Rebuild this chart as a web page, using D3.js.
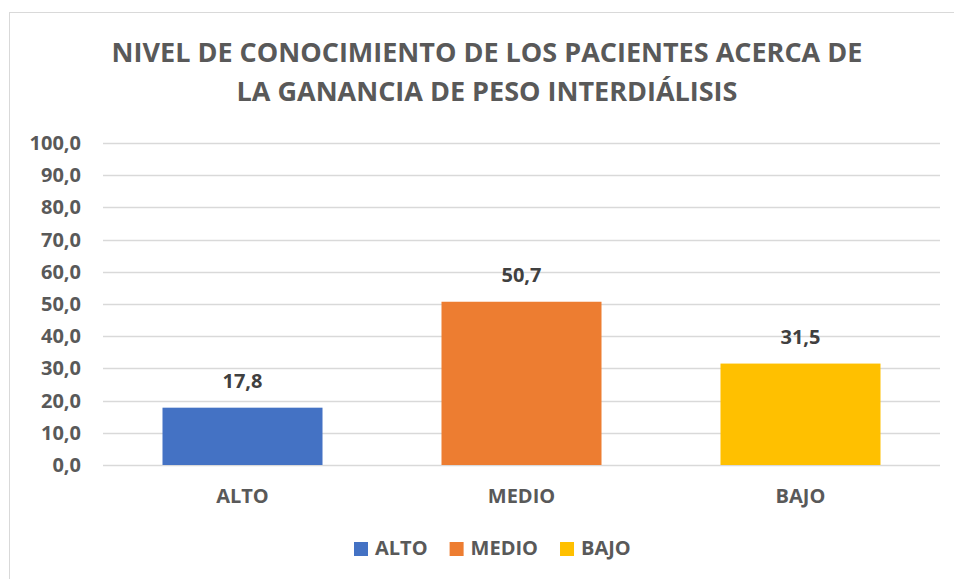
<!DOCTYPE html>
<html>
<head>
<meta charset="utf-8">
<script src="https://cdn.jsdelivr.net/npm/d3@7"></script>
<style>
  body { margin: 0; background: #fff; }
  svg { display: block; font-family: "Open Sans", Lato, sans-serif; }
</style>
</head>
<body>
<svg id="chart" width="954" height="579"></svg>
<script>
var titleLines = ["NIVEL DE CONOCIMIENTO DE LOS PACIENTES ACERCA DE", "LA GANANCIA DE PESO INTERDIÁLISIS"];
var categories = ["ALTO", "MEDIO", "BAJO"];
var values = [17.8, 50.7, 31.5];
var colors = ["#4472C4", "#ED7D31", "#FFC000"];
var yTicks = [0, 10, 20, 30, 40, 50, 60, 70, 80, 90, 100];

var svg = d3.select("#chart");
var fmt = function(v) { return d3.format(".1f")(v).replace(".", ","); };

// chart frame (only top and left show in the picture)
svg.append("rect")
    .attr("x", 9.5).attr("y", 12.5)
    .attr("width", 960).attr("height", 600)
    .attr("fill", "none")
    .attr("stroke", "#d9d9d9");

svg.selectAll(".title")
    .data(titleLines)
    .enter().append("text")
    .attr("class", "title")
    .attr("x", 487)
    .attr("y", function(d, i) { return 62 + i * 39; })
    .attr("text-anchor", "middle")
    .attr("font-size", 27)
    .attr("font-weight", "bold")
    .attr("fill", "#595959")
    .text(function(d) { return d; });

var x = d3.scaleBand()
    .domain(categories)
    .range([103, 940])
    .paddingInner(0.4265)
    .paddingOuter(0.21325);

var y = d3.scaleLinear()
    .domain([0, 100])
    .range([465, 143]);

// gridlines
svg.selectAll(".grid")
    .data(yTicks)
    .enter().append("line")
    .attr("class", "grid")
    .attr("x1", 103).attr("x2", 940)
    .attr("y1", function(d) { return Math.round(y(d)) + 0.5; })
    .attr("y2", function(d) { return Math.round(y(d)) + 0.5; })
    .attr("stroke", "#d9d9d9")
    .attr("stroke-width", 1.3);

// y tick labels
svg.selectAll(".ylab")
    .data(yTicks)
    .enter().append("text")
    .attr("class", "ylab")
    .attr("x", 81)
    .attr("y", function(d) { return y(d); })
    .attr("dy", "0.35em")
    .attr("text-anchor", "end")
    .attr("font-size", 20)
    .attr("font-weight", "bold")
    .attr("fill", "#595959")
    .text(fmt);

// bars
svg.selectAll(".bar")
    .data(values)
    .enter().append("rect")
    .attr("class", "bar")
    .attr("x", function(d, i) { return x(categories[i]); })
    .attr("y", function(d) { return y(d); })
    .attr("width", x.bandwidth())
    .attr("height", function(d) { return y(0) - y(d); })
    .attr("fill", function(d, i) { return colors[i]; });

// value labels
svg.selectAll(".vlab")
    .data(values)
    .enter().append("text")
    .attr("class", "vlab")
    .attr("x", function(d, i) { return x(categories[i]) + x.bandwidth() / 2; })
    .attr("y", function(d) { return y(d) - 20; })
    .attr("text-anchor", "middle")
    .attr("font-size", 20)
    .attr("font-weight", "bold")
    .attr("fill", "#404040")
    .text(fmt);

// category labels
svg.selectAll(".xlab")
    .data(categories)
    .enter().append("text")
    .attr("class", "xlab")
    .attr("x", function(d) { return x(d) + x.bandwidth() / 2; })
    .attr("y", 503)
    .attr("text-anchor", "middle")
    .attr("font-size", 20)
    .attr("font-weight", "bold")
    .attr("fill", "#595959")
    .text(function(d) { return d; });

// legend, laid out left to right
var leg = svg.selectAll(".leg")
    .data(categories)
    .enter().append("g")
    .attr("class", "leg");

leg.append("rect")
    .attr("y", 542)
    .attr("width", 14).attr("height", 14)
    .attr("fill", function(d, i) { return colors[i]; });

leg.append("text")
    .attr("x", 21)
    .attr("y", 555)
    .attr("font-size", 20)
    .attr("font-weight", "bold")
    .attr("fill", "#595959")
    .text(function(d) { return d; });

var lx = 354;
leg.each(function() {
    var g = d3.select(this);
    g.attr("transform", "translate(" + lx + ",0)");
    lx += 21 + g.select("text").node().getComputedTextLength() + 22;
});
</script>
</body>
</html>
